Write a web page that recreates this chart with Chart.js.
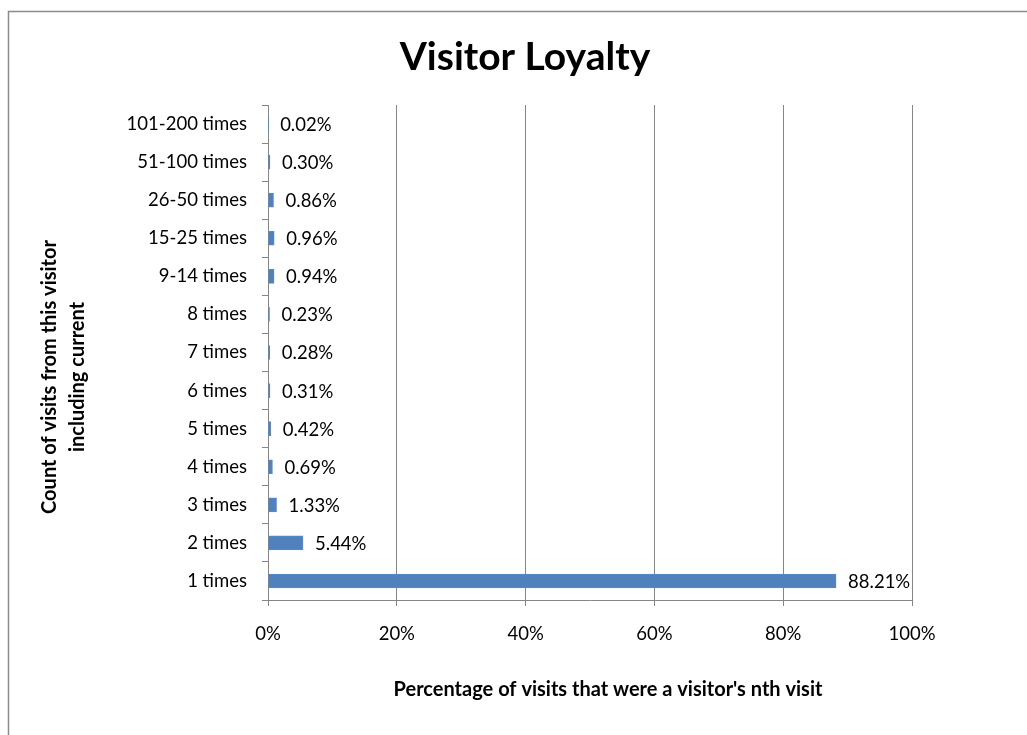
<!DOCTYPE html>
<html>
<head>
<meta charset="utf-8">
<title>Visitor Loyalty</title>
<script src="https://cdn.jsdelivr.net/npm/chart.js@4/dist/chart.umd.min.js"></script>
<style>
  html, body { margin: 0; padding: 0; background: #fff; }
  #wrap { width: 1027px; height: 735px; position: relative; }
</style>
</head>
<body>
<div id="wrap"><canvas id="chart" width="1027" height="735"></canvas></div>
<script>
// visit-count buckets, top to bottom
const categories = [
  '101-200 times', '51-100 times', '26-50 times', '15-25 times', '9-14 times',
  '8 times', '7 times', '6 times', '5 times', '4 times', '3 times', '2 times', '1 times'
];
const visitShare = [0.02, 0.30, 0.86, 0.96, 0.94, 0.23, 0.28, 0.31, 0.42, 0.69, 1.33, 5.44, 88.21];
const xTicks = [0, 20, 40, 60, 80, 100];

const FONT = 'Lato, "Open Sans", sans-serif';
const GRID = '#868686';

// outer frame, titles and value labels
const decorations = {
  id: 'decorations',
  beforeDraw(chart) {
    const ctx = chart.ctx;
    ctx.save();
    ctx.fillStyle = '#fff';
    ctx.fillRect(0, 0, chart.width, chart.height);
    ctx.strokeStyle = '#8c8c8c';
    ctx.lineWidth = 1.5;
    ctx.strokeRect(8.5, 11.5, 1040, 760);
    ctx.restore();
  },
  afterDraw(chart) {
    const ctx = chart.ctx;
    ctx.save();
    ctx.fillStyle = '#000';
    ctx.textAlign = 'center';
    ctx.textBaseline = 'middle';

    ctx.font = 'bold 39px ' + FONT;
    ctx.fillText('Visitor Loyalty', 525, 57);

    ctx.font = 'bold 20px ' + FONT;
    ctx.fillText("Percentage of visits that were a visitor's nth visit", 608, 690);

    ctx.save();
    ctx.translate(50, 377);
    ctx.rotate(-Math.PI / 2);
    ctx.fillText('Count of visits from this visitor', 0, 0);
    ctx.fillText('including current', 0, 28);
    ctx.restore();

    // value labels next to each bar
    const meta = chart.getDatasetMeta(0);
    ctx.font = '18.5px ' + FONT;
    ctx.textAlign = 'left';
    meta.data.forEach((bar, i) => {
      ctx.fillText(visitShare[i].toFixed(2) + '%', bar.x + 12, bar.y + 1);
    });
    ctx.restore();
  }
};

new Chart(document.getElementById('chart'), {
  type: 'bar',
  data: {
    labels: categories,
    datasets: [{
      data: visitShare,
      backgroundColor: '#4F81BD',
      borderColor: '#5a8bc6',
      borderWidth: 1,
      barThickness: 14
    }]
  },
  options: {
    indexAxis: 'y',
    responsive: false,
    animation: false,
    layout: { padding: { top: 105, right: 115, left: 0, bottom: 0 } },
    plugins: {
      legend: { display: false },
      tooltip: { enabled: false },
      title: { display: false }
    },
    scales: {
      x: {
        min: 0,
        max: 100,
        afterBuildTicks(scale) {
          scale.ticks = xTicks.map(v => ({ value: v }));
        },
        afterFit(scale) { scale.height = 135; },
        ticks: {
          color: '#000',
          font: { family: FONT, size: 18.5 },
          padding: 17,
          maxRotation: 0,
          callback: v => v + '%'
        },
        grid: { color: GRID, lineWidth: 1, tickLength: 6, drawTicks: true },
        border: { color: GRID, width: 1 }
      },
      y: {
        afterFit(scale) { scale.width = 268; },
        ticks: {
          color: '#000',
          font: { family: FONT, size: 18.5 },
          padding: 15
        },
        grid: { drawOnChartArea: false, color: GRID, tickLength: 6, offset: true },
        border: { color: GRID, width: 1 }
      }
    }
  },
  plugins: [decorations]
});
</script>
</body>
</html>
